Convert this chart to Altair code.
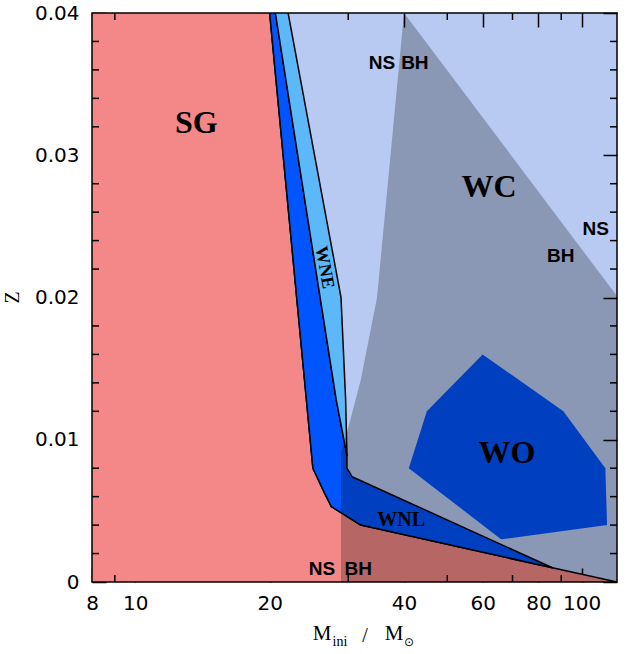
import altair as alt
import pandas as pd

# ---- final-stage regions in the (initial mass, metallicity) plane ----
# red supergiants
sg_m = [8, 20, 25, 26.5, 27.5, 32, 86, 120, 8]
sg_z = [0.04, 0.04, 0.008, 0.0063, 0.0053, 0.004, 0.001, 0.0, 0.0]

# late-type nitrogen Wolf-Rayet
wnl_m = [20, 25, 26.5, 27.5, 32, 86, 30.6, 29.8, 29.8, 28.2, 20.6]
wnl_z = [0.04, 0.008, 0.0063, 0.0053, 0.004, 0.001, 0.0074, 0.008, 0.0089, 0.0128, 0.04]

# early-type nitrogen Wolf-Rayet
wne_m = [20.6, 22, 28.9, 29.6, 29.8, 28.2]
wne_z = [0.04, 0.04, 0.02, 0.0128, 0.0089, 0.0128]

# oxygen Wolf-Rayet
wo_m = [60, 91, 113, 114, 66, 41, 45]
wo_z = [0.016, 0.012, 0.008, 0.004, 0.003, 0.008, 0.012]

# black-hole remnant domain (shaded)
bh_m = [40, 120, 120, 28.9, 28.9, 29.8, 32, 34.8]
bh_z = [0.04, 0.0201, 0.0, 0.0, 0.0091, 0.0105, 0.0142, 0.02]

# ---- labels ----
phase_text = ["SG", "WC", "WO"]
phase_m = [13.7, 62, 68]
phase_z = [0.0323, 0.0278, 0.0091]

wnl_text = ["WNL"]
wnl_lab_m = [39.4]
wnl_lab_z = [0.00436]

wne_text = ["WNE"]
wne_lab_m = [26.5]
wne_lab_z = [0.0221]

remnant_text = ["NS", "BH", "NS", "BH", "NS", "BH"]
remnant_m = [35.7, 42.3, 107.5, 89.8, 26.2, 31.6]
remnant_z = [0.0365, 0.0365, 0.0248, 0.0229, 0.0009, 0.0009]

# ---- tick values ----
x_major = [8, 10, 20, 40, 60, 80, 100]
x_minor = [9, 30, 50, 70, 90]
z_major = [0, 0.01, 0.02, 0.03, 0.04]
z_minor = [0.002, 0.004, 0.006, 0.008, 0.012, 0.014, 0.016, 0.018,
           0.022, 0.024, 0.026, 0.028, 0.032, 0.034, 0.036, 0.038]

W, H = 525, 569
MAJOR, MINOR = 14, 7
xs = alt.Scale(type="log", domain=[8, 120], nice=False)
ys = alt.Scale(domain=[0, 0.04], nice=False, zero=False)

SERIF = "Liberation Serif"
SANS = "DejaVu Sans"
BOLD_SANS = "Liberation Sans"


def region(m, z, fill, outlined=True, opacity=1.0):
    df = pd.DataFrame({"m": m, "z": z, "i": list(range(len(m)))})
    kw = dict(interpolate="linear-closed", fill=fill, fillOpacity=opacity,
              clip=True, strokeJoin="round")
    if outlined:
        kw.update(stroke="black", strokeWidth=1.5)
    else:
        kw.update(stroke=fill, strokeOpacity=0, strokeWidth=0)
    return alt.Chart(df).mark_line(**kw).encode(
        x=alt.X("m:Q", scale=xs, axis=None),
        y=alt.Y("z:Q", scale=ys, axis=None),
        order=alt.Order("i:Q"),
    )


def labels(text, m, z, font, size, angle=None):
    df = pd.DataFrame({"t": text, "m": m, "z": z})
    kw = dict(font=font, fontSize=size, fontWeight="bold", color="black",
              align="center", baseline="middle")
    if angle:
        kw["angle"] = angle
    return alt.Chart(df).mark_text(**kw).encode(
        x=alt.X("m:Q", scale=xs, axis=None),
        y=alt.Y("z:Q", scale=ys, axis=None),
        text="t:N",
    )


# short minor ticks, pointing inwards from the frame
def x_ticks(values, length, top):
    df = pd.DataFrame({"v": values})
    y0, y1 = (0, length) if top else (H, H - length)
    return alt.Chart(df).mark_rule(color="#000000", strokeWidth=1.5).encode(
        x=alt.X("v:Q", scale=xs, axis=None),
        y=alt.value(y0), y2=alt.value(y1),
    )


def z_ticks(values, length, right):
    df = pd.DataFrame({"v": values})
    x0, x1 = (W, W - length) if right else (0, length)
    return alt.Chart(df).mark_rule(color="#000000", strokeWidth=1.5).encode(
        y=alt.Y("v:Q", scale=ys, axis=None),
        x=alt.value(x0), x2=alt.value(x1),
    )


minor_ticks = [
    x_ticks(x_minor, MINOR, False), x_ticks(x_minor, MINOR, True),
    z_ticks(z_minor, MINOR, False), z_ticks(z_minor, MINOR, True),
]

corners = pd.DataFrame({"m": [8, 120], "z": [0, 0.04]})


def axis_carrier(xaxis, yaxis):
    return alt.Chart(corners).mark_point(opacity=0).encode(
        x=alt.X("m:Q", scale=xs, axis=xaxis),
        y=alt.Y("z:Q", scale=ys, axis=yaxis),
    )


# major ticks: each axis line is pulled inside the frame by the tick length,
# so the ticks run from the frame edge inwards; labels keep their place.
tick_style = dict(ticks=True, tickSize=MAJOR, offset=-MAJOR, tickColor="black",
                  tickWidth=1.5, domain=False, grid=False)

x_bottom = alt.Axis(
    orient="bottom", values=x_major, format="d", title=None,
    labelFont=SANS, labelFontSize=20, labelColor="black", labelPadding=11,
    labelFlush=False, labelOverlap=False, **tick_style,
)
z_left = alt.Axis(
    orient="left", values=z_major, format=".2~f",
    labelFont=SANS, labelFontSize=20, labelColor="black", labelPadding=13,
    labelFlush=False, labelOverlap=False,
    title="Z", titleFont=SERIF, titleFontSize=20, titleFontWeight="normal",
    titleColor="black", titleX=-80 - MAJOR, titleY=284, titleAlign="center",
    titleBaseline="middle", **tick_style,
)
x_top = alt.Axis(orient="top", values=x_major, labels=False, title=None,
                 **tick_style)
z_right = alt.Axis(orient="right", values=z_major, labels=False, title=None,
                   **tick_style)

axes = [axis_carrier(x_bottom, z_left), axis_carrier(x_top, z_right)]

# x-axis title pieces: M_ini / M_sun (subscripts set lower and smaller)
title_text = ["M", "ini", "/", "M", "\u2299"]


def title_piece(k, px, py, size, font=SERIF, baseline="alphabetic"):
    df = pd.DataFrame({"t": [title_text[k]]})
    return alt.Chart(df).mark_text(
        font=font, fontSize=size, color="black",
        align="center", baseline=baseline,
    ).encode(x=alt.value(px), y=alt.value(py), text="t:N")


x_title = [
    title_piece(0, 230, 627, 21),
    title_piece(1, 248, 633, 14),
    title_piece(2, 273, 629, 20),
    title_piece(3, 302, 627, 21),
    title_piece(4, 317, 629, 12, font="DejaVu Sans", baseline="middle"),
]

chart = alt.layer(
    region(sg_m, sg_z, "#F48888"),
    region(wnl_m, wnl_z, "#0055FF"),
    region(wne_m, wne_z, "#5CB8F8"),
    region(wo_m, wo_z, "#0055FF", outlined=False),
    region(bh_m, bh_z, "black", outlined=False, opacity=0.25),
    labels(phase_text, phase_m, phase_z, SERIF, 32),
    labels(wnl_text, wnl_lab_m, wnl_lab_z, SERIF, 20),
    labels(wne_text, wne_lab_m, wne_lab_z, SERIF, 18, angle=80),
    labels(remnant_text, remnant_m, remnant_z, BOLD_SANS, 19),
    *axes,
    *x_title,
    *minor_ticks,
).resolve_axis(
    x="independent", y="independent"
).properties(
    width=W,
    height=H,
    autosize=alt.AutoSizeParams(type="none"),
    padding={"left": 92, "top": 13, "right": 16, "bottom": 72},
    background="white",
).configure_view(
    fill="#B8CAF2", stroke="black", strokeWidth=1.5
)

chart.save("out.html", embed_options={"renderer": "svg", "actions": False})
